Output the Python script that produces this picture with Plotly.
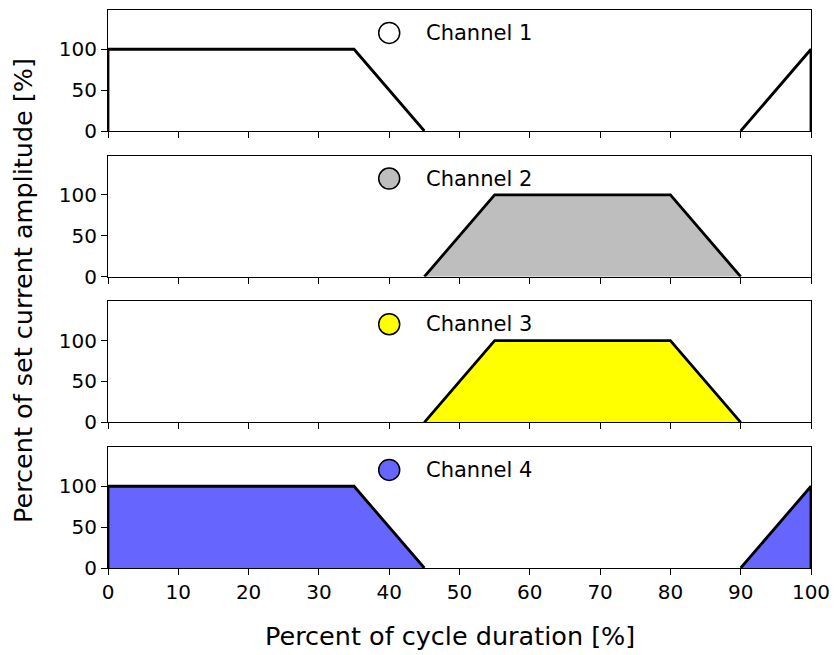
import plotly.graph_objects as go

channels = ["Channel 1", "Channel 2", "Channel 3", "Channel 4"]
xs = [
    [0, 0, 35, 45, 90, 100, 100],
    [45, 55, 80, 90],
    [45, 55, 80, 90],
    [0, 0, 35, 45, 90, 100, 100],
]
ys = [
    [0, 100, 100, 0, 0, 100, 0],
    [0, 100, 100, 0],
    [0, 100, 100, 0],
    [0, 100, 100, 0, 0, 100, 0],
]
fills = ["#ffffff", "#bebebe", "#ffff00", "#6666ff"]
marker_x = 40
marker_y = 120
x_ticks = [0, 10, 20, 30, 40, 50, 60, 70, 80, 90, 100]
y_ticks = [0, 50, 100]

W, H = 834, 655
ml, mr, mt, mb = 108, 23, 10, 87
pw = W - ml - mr
ph = H - mt - mb
panel = 121
gap = (ph - 4 * panel) / 3


def profile(x, y):
    # break the outline wherever it runs along the zero baseline
    lx, ly = [x[0]], [y[0]]
    for k in range(1, len(x)):
        if y[k] == 0 and y[k - 1] == 0:
            lx.append(None)
            ly.append(None)
        lx.append(x[k])
        ly.append(y[k])
    return lx, ly


fig = go.Figure()
font = "DejaVu Sans, sans-serif"
for i in range(4):
    ax = "" if i == 0 else str(i + 1)
    fig.add_trace(go.Scatter(
        x=xs[i], y=ys[i], mode="lines", fill="toself", fillcolor=fills[i],
        line=dict(color="rgba(0,0,0,0)", width=0), xaxis="x" + ax, yaxis="y" + ax,
        showlegend=False, hoverinfo="skip"))
    lx, ly = profile(xs[i], ys[i])
    fig.add_trace(go.Scatter(
        x=lx, y=ly, mode="lines", connectgaps=False,
        line=dict(color="black", width=2.8), xaxis="x" + ax, yaxis="y" + ax,
        showlegend=False, hoverinfo="skip"))
    fig.add_trace(go.Scatter(
        x=[marker_x], y=[marker_y], mode="markers",
        marker=dict(size=21, color=fills[i], line=dict(color="black", width=1.5)),
        xaxis="x" + ax, yaxis="y" + ax, showlegend=False, hoverinfo="skip"))
    fig.add_annotation(x=45, y=marker_y, xref="x" + ax, yref="y" + ax,
                       text=channels[i], showarrow=False, xanchor="left",
                       yanchor="middle", font=dict(family=font, size=21, color="black"))
    top = 1 - (i * (panel + gap)) / ph
    bot = top - panel / ph
    axis_common = dict(showline=True, linecolor="black", linewidth=1.2, mirror=True,
                       ticks="outside", ticklen=6, tickwidth=1.2, tickcolor="black",
                       showgrid=False, zeroline=False, automargin=False,
                       tickfont=dict(family=font, size=20, color="black"))
    fig.update_layout(**{
        "xaxis" + ax: dict(range=[0, 100], domain=[0, 1], anchor="y" + ax,
                           tickvals=x_ticks, showticklabels=(i == 3),
                           matches=None if i == 0 else "x", **axis_common),
        "yaxis" + ax: dict(range=[0, 148], domain=[bot, top], anchor="x" + ax,
                           tickvals=y_ticks, **axis_common),
    })

fig.add_annotation(x=(23 - ml) / pw, y=1 - (291 - mt) / ph, xref="paper", yref="paper",
                   text="Percent of set current amplitude [%]", textangle=-90,
                   showarrow=False, xanchor="center", yanchor="middle",
                   font=dict(family=font, size=25.5, color="black"))
fig.add_annotation(x=(450 - ml) / pw, y=-(636 - (H - mb)) / ph, xref="paper", yref="paper",
                   text="Percent of cycle duration [%]", showarrow=False,
                   xanchor="center", yanchor="middle",
                   font=dict(family=font, size=25.5, color="black"))

fig.update_layout(width=W, height=H, margin=dict(l=ml, r=mr, t=mt, b=mb),
                  plot_bgcolor="white", paper_bgcolor="white")
fig.write_html("out.html", config={"displayModeBar": False},
               post_script="document.body.style.margin='0px';")
